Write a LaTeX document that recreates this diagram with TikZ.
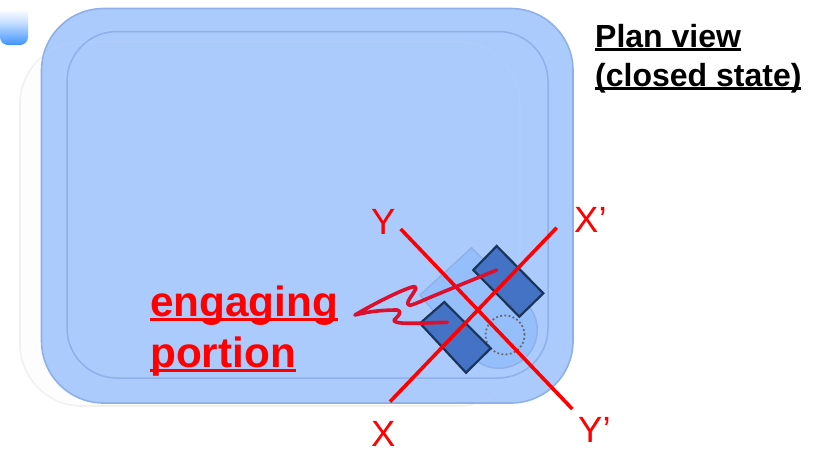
\documentclass[tikz,border=0pt]{standalone}
\usepackage{fontspec}
\setmainfont{Liberation Sans}
\definecolor{bodyblue}{HTML}{ABCBFC}
\definecolor{edgeblue}{HTML}{8FB0E8}
\definecolor{dropblue}{HTML}{95BFFA}
\definecolor{padblue}{HTML}{4472C4}
\definecolor{padedge}{HTML}{1B3558}
\definecolor{ghostedge}{HTML}{F1F1F1}
\definecolor{ghostfill}{HTML}{FDFDFD}
\definecolor{tabblue}{HTML}{3E94FF}
\definecolor{tabmid}{HTML}{C6DEFF}
\definecolor{squiggle}{HTML}{DC0F2D}
\pgfdeclareverticalshading{tabfade}{100bp}{color(0bp)=(tabblue); color(25bp)=(tabblue); color(50bp)=(tabmid); color(65bp)=(white); color(100bp)=(white)}
\newlength{\ulwd}
\newcommand{\ultext}[3]{\setbox0=\hbox{#1}\ulwd=\wd0\relax\rlap{\rule[-#2]{\ulwd}{#3}}\box0}
\tikzset{
  body/.style={fill=bodyblue,draw=edgeblue,line width=1.6pt},
  pad/.style={fill=padblue,draw=padedge,line width=2.2pt,line join=miter},
  cross/.style={draw=red,line width=3.6pt},
  lbl/.style={text=red,font=\fontsize{36.5}{36}\selectfont,anchor=base west,inner sep=0pt},
  title/.style={font=\bfseries\fontsize{32}{32}\selectfont,anchor=base west,inner sep=0pt},
  tag/.style={text=red,font=\bfseries\fontsize{42.3}{42}\selectfont,anchor=base west,inner sep=0pt}
}
\begin{document}
\begin{tikzpicture}[x=1pt,y=-1pt]
\useasboundingbox (0,0) rectangle (816,451);
% corner tab
\shade[shading=tabfade] (0,0) -- (28,0) [rounded corners=8pt] -- (28,45) -- (0,45) [sharp corners] -- cycle;
% ghost tray
\draw[fill=ghostfill,draw=ghostedge,line width=1.6pt,rounded corners=62pt] (20,42) rectangle (520,406);
% tray
\draw[body,rounded corners=62pt] (41.5,8.5) rectangle (573,403);
\draw[draw=edgeblue,line width=1.5pt,rounded corners=50pt] (67,31.5) rectangle (548,378);
\draw[draw=white,opacity=0.06,line width=1.2pt,rounded corners=62pt] (20,42) rectangle (520,406);
% teardrop
\draw[fill=dropblue,draw=edgeblue,line width=1.4pt] (471.7,247.7) -- (526,303)
  .. controls (541,318) and (541,342) .. (526,357)
  .. controls (511,372) and (487,372) .. (472,357)
  -- (420,295) -- cycle;
% dotted circle
\draw[draw=black!60,line width=1.8pt,dash pattern=on 1.8pt off 2.4pt] (505,335) circle (19.5pt);
% pads
\draw[pad] (496.7,246) -- (543.3,293.3) -- (519.3,316.7) -- (473.3,270) -- cycle;
\draw[pad] (444.3,302) -- (490.7,348.3) -- (466,372.7) -- (420,323.3) -- cycle;
% labels and ends of cross lines
\coordinate (yend) at (400.7,229);
\coordinate (ypend) at (572.3,409);
\coordinate (xend) at (390,401.7);
\coordinate (xpend) at (556.7,227.7);
\draw[cross] (yend) -- (ypend);
\draw[cross] (xend) -- (xpend);
\node[lbl] (ly) at (371,234) {Y};
\node[lbl] (lxp) at (574,232) {X’};
\node[lbl] (lx) at (371,446) {X};
\node[lbl] (lyp) at (578,442) {Y’};
% squiggle leader
\coordinate (sa) at (496.7,270);
\coordinate (sb) at (447.3,322.3);
\draw[draw=squiggle,line width=3.6pt,line cap=round,line join=round] (sa)
  .. controls (470,281) and (440,293) .. (420,301.7)
  .. controls (410,306) and (404,308) .. (410,298)
  .. controls (416,289) and (420,284) .. (409,288)
  .. controls (395,293) and (370,306) .. (355,315)
  .. controls (370,311) and (385,310) .. (397,310)
  .. controls (404,312) and (396,318) .. (394,320)
  .. controls (393,325) and (420,323) .. (sb);
% texts
\node[title] (t1) at (595,47) {\ultext{Plan view}{3.6pt}{2.2pt}};
\node[title] (t2) at (595,86) {\ultext{(closed state)}{3.6pt}{2.2pt}};
\node[tag] (e1) at (150,316) {\ultext{engaging}{5pt}{2.8pt}};
\node[tag] (e2) at (150,367) {\ultext{portion}{5pt}{2.8pt}};
\end{tikzpicture}
\end{document}
